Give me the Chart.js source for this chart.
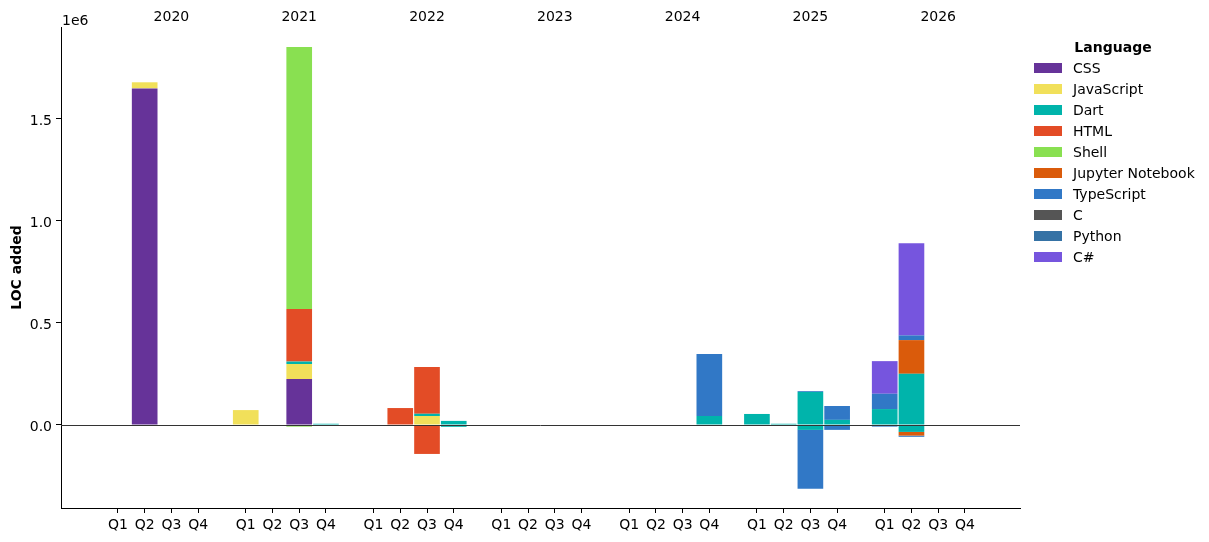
<!DOCTYPE html>
<html>
<head>
<meta charset="utf-8">
<script src="https://cdn.jsdelivr.net/npm/chart.js@4.4.1/dist/chart.umd.min.js"></script>
<style>
  html, body { margin: 0; padding: 0; background: #fff; }
</style>
</head>
<body>
<canvas id="myChart" width="1209" height="542"></canvas>
<script>
// categories
var years = ['2020', '2021', '2022', '2023', '2024', '2025', '2026'];
var quarters = ['Q1', 'Q2', 'Q3', 'Q4'];
var languages = ['CSS', 'JavaScript', 'Dart', 'HTML', 'Shell', 'Jupyter Notebook', 'TypeScript', 'C', 'Python', 'C#'];
var colors = ['#663399', '#f1e05a', '#00b4ab', '#e34c26', '#89e051', '#da5b0b', '#3178c6', '#555555', '#3572a5', '#7655de'];
var yTicks = [0, 500000, 1000000, 1500000];

// LOC added per quarter, 2020 Q1 .. 2026 Q4
var cssAdded = [0, 1650000, 0, 0,  0, 0, 225000, 0,  0, 0, 0, 0,  0, 0, 0, 0,  0, 0, 0, 0,  0, 0, 0, 0,  0, 0, 0, 0];
var jsAdded = [0, 30000, 0, 0,  73000, 0, 74000, 0,  0, 0, 44000, 0,  0, 0, 0, 0,  0, 0, 0, 0,  0, 0, 0, 0,  0, 0, 0, 0];
var dartAdded = [0, 0, 0, 0,  0, 0, 12000, 6000,  0, 0, 11000, 20000,  0, 0, 0, 0,  0, 0, 0, 44000,  54000, 6000, 162000, 25000,  78000, 251000, 0, 0];
var htmlAdded = [0, 0, 0, 0,  0, 0, 258000, 0,  0, 83000, 229000, 0,  0, 0, 0, 0,  0, 0, 0, 0,  0, 0, 0, 0,  0, 0, 0, 0];
var shellAdded = [0, 0, 0, 0,  0, 0, 1284000, 0,  0, 0, 0, 0,  0, 0, 0, 0,  0, 0, 0, 0,  0, 0, 0, 0,  0, 0, 0, 0];
var jupyterAdded = [0, 0, 0, 0,  0, 0, 0, 0,  0, 0, 0, 0,  0, 0, 0, 0,  0, 0, 0, 0,  0, 0, 0, 0,  0, 165000, 0, 0];
var tsAdded = [0, 0, 0, 0,  0, 0, 0, 0,  0, 0, 0, 0,  0, 0, 0, 0,  0, 0, 0, 304000,  0, 0, 4000, 68000,  75000, 23000, 0, 0];
var cAdded = [0, 0, 0, 0,  0, 0, 0, 0,  0, 0, 0, 0,  0, 0, 0, 0,  0, 0, 0, 0,  0, 0, 0, 0,  0, 0, 0, 0];
var pythonAdded = [0, 0, 0, 0,  0, 0, 0, 0,  0, 0, 0, 0,  0, 0, 0, 0,  0, 0, 0, 0,  0, 0, 0, 0,  0, 0, 0, 0];
var csharpAdded = [0, 0, 0, 0,  0, 0, 0, 0,  0, 0, 0, 0,  0, 0, 0, 0,  0, 0, 0, 0,  0, 0, 0, 0,  160000, 452000, 0, 0];

// LOC removed per quarter (drawn below zero)
var cssRemoved = [0, 0, 0, 0,  0, 0, 0, 0,  0, 0, 0, 0,  0, 0, 0, 0,  0, 0, 0, 0,  0, 0, 0, 0,  0, 0, 0, 0];
var jsRemoved = [0, 0, 0, 0,  0, 0, 0, 0,  0, 0, 0, 0,  0, 0, 0, 0,  0, 0, 0, 0,  0, 0, 0, 0,  0, 0, 0, 0];
var dartRemoved = [0, 0, 0, 0,  0, 0, 0, 0,  0, 0, 0, -9000,  0, 0, 0, 0,  0, 0, 0, 0,  0, 0, -24000, 0,  0, -34000, 0, 0];
var htmlRemoved = [0, 0, 0, 0,  0, 0, 0, 0,  0, 0, -142000, 0,  0, 0, 0, 0,  0, 0, 0, 0,  0, 0, 0, 0,  0, 0, 0, 0];
var shellRemoved = [0, 0, 0, 0,  0, 0, -8000, 0,  0, 0, 0, 0,  0, 0, 0, 0,  0, 0, 0, 0,  0, 0, 0, 0,  0, 0, 0, 0];
var jupyterRemoved = [0, 0, 0, 0,  0, 0, 0, 0,  0, 0, 0, 0,  0, 0, 0, 0,  0, 0, 0, 0,  0, 0, 0, 0,  0, -18000, 0, 0];
var tsRemoved = [0, 0, 0, 0,  0, 0, 0, 0,  0, 0, 0, 0,  0, 0, 0, 0,  0, 0, 0, 0,  0, 0, -289000, -24000,  -8000, -6000, 0, 0];
var cRemoved = [0, 0, 0, 0,  0, 0, 0, 0,  0, 0, 0, 0,  0, 0, 0, 0,  0, 0, 0, 0,  0, 0, 0, 0,  0, 0, 0, 0];
var pythonRemoved = [0, 0, 0, 0,  0, 0, 0, 0,  0, 0, 0, 0,  0, 0, 0, 0,  0, 0, 0, 0,  0, 0, 0, 0,  0, 0, 0, 0];
var csharpRemoved = [0, 0, 0, 0,  0, 0, 0, 0,  0, 0, 0, 0,  0, 0, 0, 0,  0, 0, 0, 0,  0, 0, 0, 0,  0, 0, 0, 0];

var addedSeries = [cssAdded, jsAdded, dartAdded, htmlAdded, shellAdded, jupyterAdded, tsAdded, cAdded, pythonAdded, csharpAdded];
var removedSeries = [cssRemoved, jsRemoved, dartRemoved, htmlRemoved, shellRemoved, jupyterRemoved, tsRemoved, cRemoved, pythonRemoved, csharpRemoved];

// quarters sit on a linear axis, with a gap between years
var YEAR_STEP = 4.78;
function xPos(i) {
  return Math.floor(i / 4) * YEAR_STEP + (i % 4);
}
var quarterX = [];
var quarterLabels = [];
for (var i = 0; i < years.length * 4; i++) {
  quarterX.push(xPos(i));
  quarterLabels.push(quarters[i % 4]);
}
var yearX = years.map(function (y, i) { return i * YEAR_STEP + 2; });
var X_MIN = -2.13;
var X_MAX = (years.length - 1) * YEAR_STEP + 3 + 2.06;

function toPoints(values) {
  return values.map(function (v, i) { return { x: xPos(i), y: v }; });
}

var datasets = [];
languages.forEach(function (lang, k) {
  datasets.push({ label: lang, data: toPoints(addedSeries[k]), backgroundColor: colors[k], borderWidth: 0 });
});
languages.forEach(function (lang, k) {
  datasets.push({ label: lang + ' removed', data: toPoints(removedSeries[k]), backgroundColor: colors[k], borderWidth: 0, inLegend: false });
});

var FONT = '"DejaVu Sans", sans-serif';
Chart.defaults.font.family = FONT;
Chart.defaults.font.size = 14;
Chart.defaults.color = '#000';

var extras = {
  id: 'extras',
  afterDatasetsDraw: function (chart) {
    // zero line on top of the bars
    var ctx = chart.ctx;
    var area = chart.chartArea;
    var y0 = Math.round(chart.scales.y.getPixelForValue(0)) + 0.5;
    ctx.save();
    ctx.strokeStyle = '#333';
    ctx.lineWidth = 1;
    ctx.beginPath();
    ctx.moveTo(area.left, y0);
    ctx.lineTo(area.right, y0);
    ctx.stroke();
    ctx.restore();
  },
  afterDraw: function (chart) {
    var ctx = chart.ctx;
    var area = chart.chartArea;
    ctx.save();
    // offset text for the y axis
    ctx.fillStyle = '#000';
    ctx.font = '14px ' + FONT;
    ctx.textAlign = 'left';
    ctx.textBaseline = 'middle';
    ctx.fillText('1e6', area.left + 1, 21);

    // legend
    var lx = area.right + 14;
    ctx.font = 'bold 14px ' + FONT;
    ctx.textAlign = 'center';
    ctx.fillText('Language', lx + 79, 48.5);
    ctx.font = '14px ' + FONT;
    ctx.textAlign = 'left';
    var row = 0;
    chart.data.datasets.forEach(function (ds) {
      if (ds.inLegend === false) return;
      var y = 68 + row * 21;
      ctx.fillStyle = ds.backgroundColor;
      ctx.fillRect(lx, y - 5, 28, 10);
      ctx.fillStyle = '#000';
      ctx.fillText(ds.label, lx + 39, y + 1.5);
      row++;
    });
    ctx.restore();
  }
};

var ctx = document.getElementById('myChart').getContext('2d');
var myChart = new Chart(ctx, {
  type: 'bar',
  data: { datasets: datasets },
  options: {
    responsive: false,
    animation: false,
    devicePixelRatio: 1,
    layout: { padding: { left: 0, right: 189, top: 0, bottom: 0 } },
    datasets: { bar: { barPercentage: 0.96, categoryPercentage: 1 } },
    plugins: { legend: { display: false }, tooltip: { enabled: false } },
    scales: {
      x: {
        type: 'linear',
        stacked: true,
        offset: false,
        min: X_MIN,
        max: X_MAX,
        afterBuildTicks: function (s) {
          s.ticks = quarterX.map(function (v) { return { value: v }; });
        },
        ticks: {
          autoSkip: false,
          maxRotation: 0,
          padding: 4,
          callback: function (v, i) { return quarterLabels[i]; }
        },
        grid: { offset: false, drawOnChartArea: false, drawTicks: true, tickLength: 5, tickColor: '#000' },
        border: { color: '#000', width: 1 },
        afterFit: function (s) { s.height = 34; }
      },
      x2: {
        type: 'linear',
        position: 'top',
        offset: false,
        min: X_MIN,
        max: X_MAX,
        afterBuildTicks: function (s) {
          s.ticks = yearX.map(function (v) { return { value: v }; });
        },
        ticks: {
          autoSkip: false,
          maxRotation: 0,
          padding: 1,
          callback: function (v, i) { return years[i]; }
        },
        grid: { display: false, drawTicks: false },
        border: { display: false },
        afterFit: function (s) { s.height = 27; }
      },
      y: {
        stacked: true,
        min: -407000,
        max: 1951000,
        afterBuildTicks: function (s) {
          s.ticks = yTicks.map(function (v) { return { value: v }; });
        },
        ticks: {
          padding: 4,
          labelOffset: 2,
          callback: function (v) { return (v / 1e6).toFixed(1); }
        },
        grid: { drawOnChartArea: false, drawTicks: true, tickLength: 5, tickColor: '#000' },
        border: { color: '#000', width: 1 },
        title: {
          display: true,
          text: 'LOC added',
          font: { weight: 'bold', size: 14 },
          padding: { top: 9, bottom: 0 }
        },
        afterFit: function (s) { s.width = 61; }
      }
    }
  },
  plugins: [extras]
});
</script>
</body>
</html>
